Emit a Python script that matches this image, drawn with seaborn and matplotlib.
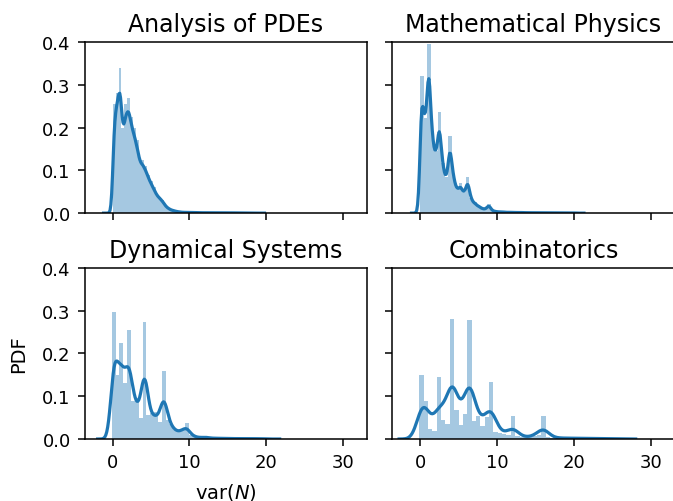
import numpy as np
import pandas as pd
import matplotlib
matplotlib.use("Agg")
import matplotlib.pyplot as plt
import seaborn as sns

# histogram of var(N) per field: first bin edge, bin width, bar heights (PDF)
pdes_start, pdes_width = 0.05, 0.37
pdes_heights = [0.254, 0.28, 0.34, 0.20, 0.255, 0.27, 0.225, 0.20, 0.17, 0.13,
                0.125, 0.11, 0.09, 0.075, 0.06, 0.045, 0.038, 0.03, 0.018, 0.012,
                0.008, 0.006, 0.004, 0.003, 0.002, 0.002, 0.002, 0.0015, 0.0015, 0.0015,
                0.001, 0.001, 0.001, 0.001, 0.001, 0.001, 0.001, 0.001, 0.0008, 0.0008,
                0.0008, 0.0008, 0.0006, 0.0006, 0.0006, 0.0005, 0.0005, 0.0005, 0.0005, 0.0005]

physics_start, physics_width = -0.05, 0.46
physics_heights = [0.32, 0.223, 0.396, 0.19, 0.145, 0.237, 0.117, 0.085, 0.18, 0.09,
                   0.06, 0.07, 0.05, 0.085, 0.035, 0.025, 0.018, 0.012, 0.01, 0.021,
                   0.006, 0.004, 0.003, 0.003, 0.002, 0.002, 0.002, 0.0015, 0.0015, 0.0015,
                   0.001, 0.001, 0.001, 0.001, 0.001, 0.001, 0.0008, 0.0008, 0.0008, 0.0008,
                   0.0006, 0.0006, 0.0006, 0.0005]

dynamics_start, dynamics_width = -0.1, 0.5
dynamics_heights = [0.298, 0.15, 0.224, 0.13, 0.255, 0.09, 0.095, 0.05, 0.273, 0.055,
                    0.06, 0.062, 0.04, 0.159, 0.045, 0.035, 0.02, 0.018, 0.022, 0.038,
                    0.01, 0.006, 0.004, 0.003, 0.006, 0.002, 0.002, 0.002, 0.0015, 0.0015,
                    0.0015, 0.001, 0.001, 0.001, 0.001, 0.001, 0.0008, 0.0008, 0.0008, 0.0008]

combi_start, combi_width = -0.13, 0.567
combi_heights = [0.15, 0.089, 0.023, 0.019, 0.145, 0.045, 0.035, 0.281, 0.068, 0.032,
                 0.058, 0.279, 0.042, 0.054, 0.03, 0.051, 0.134, 0.016, 0.015, 0.012,
                 0.01, 0.054, 0.006, 0.005, 0.004, 0.005, 0.008, 0.01, 0.054, 0.004,
                 0.003, 0.003, 0.002, 0.002, 0.002, 0.002, 0.0015, 0.0015, 0.0015, 0.0015,
                 0.001, 0.001, 0.001, 0.001, 0.001]

titles = ["Analysis of PDEs", "Mathematical Physics", "Dynamical Systems", "Combinatorics"]
panels = [
    (pdes_start, pdes_width, pdes_heights, 0.19),
    (physics_start, physics_width, physics_heights, 0.16),
    (dynamics_start, dynamics_width, dynamics_heights, 0.25),
    (combi_start, combi_width, combi_heights, 0.28),
]

plt.rcParams["xtick.labelsize"] = 13
plt.rcParams["ytick.labelsize"] = 13
plt.rcParams["axes.titlesize"] = 17
plt.rcParams["axes.titlepad"] = 8
plt.rcParams["axes.labelsize"] = 14
plt.rcParams["axes.linewidth"] = 1.1
for axis in ("xtick", "ytick"):
    plt.rcParams[f"{axis}.major.size"] = 5
    plt.rcParams[f"{axis}.major.width"] = 1.1
    plt.rcParams[f"{axis}.major.pad"] = 5

fig, axes = plt.subplots(2, 2, figsize=(6.73, 5.02), dpi=100, sharex=True, sharey=True)
fig.subplots_adjust(left=0.1256, right=1.0025, bottom=0.1235, top=0.9143,
                    wspace=0.09, hspace=0.32)

for ax, title, (start, width, heights, bw) in zip(axes.flat, titles, panels):
    edges = [start + width * i for i in range(len(heights) + 1)]
    df = pd.DataFrame({
        "x": [e + width / 2 for e in edges[:-1]],
        "pdf": heights,
    })
    sns.histplot(data=df, x="x", weights="pdf", bins=edges, stat="count",
                 color="C0", alpha=0.4, linewidth=0, ax=ax)
    sns.kdeplot(data=df, x="x", weights="pdf", bw_adjust=bw, cut=3,
                color="C0", linewidth=2.3, ax=ax)
    ax.set_title(title)
    ax.set_xlabel("")
    ax.set_ylabel("")

ax = axes[0, 0]
ax.set_xlim(-3.65, 33.1)
ax.set_ylim(0, 0.4)
ax.set_xticks([0, 10, 20, 30])
ax.set_yticks([0.0, 0.1, 0.2, 0.3, 0.4])

axes[1, 0].set_ylabel("PDF", labelpad=10)
axes[1, 0].set_xlabel("var($N$)", labelpad=7)

fig.savefig("out.png", dpi=100)
